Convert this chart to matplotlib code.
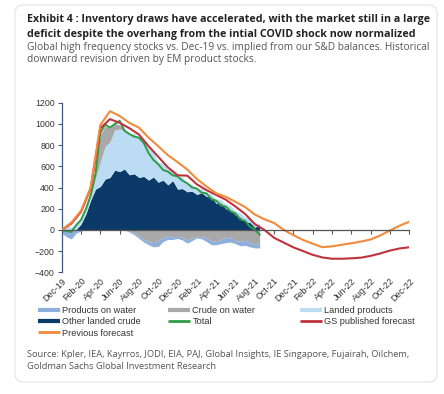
import numpy as np
import matplotlib
matplotlib.use('Agg')
import matplotlib.pyplot as plt
from matplotlib.patches import FancyBboxPatch
from matplotlib.lines import Line2D

plt.rcParams['font.family'] = ['Liberation Sans', 'DejaVu Sans']
head_font = ['Open Sans', 'DejaVu Sans']

# history: two readings per month, months counted from Dec-19
hist_months = np.arange(42) * 0.5
other_landed_crude = [0, 0, 0, 5, 55, 150, 280, 385, 410, 480,
                      495, 565, 550, 575, 520, 530, 495, 505, 470, 500,
                      450, 470, 425, 465, 385, 390, 360, 365, 335, 350,
                      315, 310, 250, 255, 200, 190, 140, 120, 80, 70,
                      25, 45]
landed_products = [20, 45, 25, 50, 50, 60, 30, 105, 230, 310,
                   335, 380, 400, 365, 380, 385, 365, 355, 300, 230,
                   190, 160, 145, 110, 120, 110, 80, 65, 55, 40,
                   35, 30, 40, 30, 40, 35, 40, 40, 40, 40,
                   40, 15]
crude_on_water = [0, -5, -10, 0, 0, 10, 20, 80, 260, 190,
                  130, 60, 40, 15, -10, -30, -60, -90, -110, -120,
                  -100, -70, -60, -65, -60, -70, -95, -80, -60, -65,
                  -80, -100, -110, -90, -70, -75, -100, -110, -95, -120,
                  -140, -130]
products_on_water = [-30, -60, -75, -30, -10, 0, 0, 0, 0, 0,
                     0, 0, 0, 0, -10, -15, -20, -25, -30, -40,
                     -55, -40, -30, -25, -20, -25, -30, -20, -15, -20,
                     -30, -40, -30, -40, -50, -40, -30, -40, -50, -40,
                     -30, -40]
total = [0, -12, -18, 45, 95, 195, 325, 530, 915, 995,
         965, 1000, 1030, 935, 905, 880, 870, 820, 725, 660,
         620, 565, 550, 515, 505, 465, 440, 400, 390, 350,
         345, 290, 275, 230, 220, 175, 155, 100, 85, 30,
         5, -45]

# monthly balances Dec-19 .. Dec-22
fc_months = np.arange(37)
gs_forecast = [0, 60, 170, 390, 960, 1045, 1010, 960, 900, 790,
               690, 590, 515, 512, 430, 375, 330, 285, 220, 150,
               55, 0, -75, -120, -165, -200, -235, -260, -272, -272,
               -268, -262, -245, -222, -195, -175, -164]
previous_forecast = [0, 70, 180, 400, 990, 1120, 1075, 1010, 965, 870,
                     790, 705, 640, 570, 480, 410, 345, 312, 265, 215,
                     145, 100, 65, 0, -50, -95, -130, -163, -155, -140,
                     -126, -110, -90, -52, -5, 40, 77]

tick_labels = ['Dec-19', 'Feb-20', 'Apr-20', 'Jun-20', 'Aug-20', 'Oct-20',
               'Dec-20', 'Feb-21', 'Apr-21', 'Jun-21', 'Aug-21', 'Oct-21',
               'Dec-21', 'Feb-22', 'Apr-22', 'Jun-22', 'Aug-22', 'Oct-22',
               'Dec-22']

c_pow = '#8eaedb'
c_cow = '#a9a9a9'
c_lp = '#bcdcf3'
c_olc = '#0c3a68'
c_total = '#2f9d48'
c_gs = '#c0323c'
c_prev = '#f28a3c'

W, H = 444, 394
fig = plt.figure(figsize=(W / 100, H / 100), dpi=100)

card = FancyBboxPatch((15 / W, 1 - 382 / H), 422 / W, 377 / H,
                      boxstyle='round,pad=0,rounding_size=0.02',
                      transform=fig.transFigure, facecolor='white',
                      edgecolor='#e4e4e4', lw=0.8, zorder=-5)
fig.patches.append(card)

ax = fig.add_axes([61.7 / W, 1 - 272.3 / H, (409.3 - 61.7) / W, (272.3 - 102.7) / H])
ax.set_facecolor('none')

# stacked areas, positives up from zero and negatives down
olc = np.array(other_landed_crude, float)
lp = np.array(landed_products, float)
cow = np.array(crude_on_water, float)
pw = np.array(products_on_water, float)

p1 = olc
p2 = p1 + lp
p3 = p2 + np.clip(cow, 0, None)
p4 = p3 + np.clip(pw, 0, None)
n1 = np.clip(cow, None, 0)
n2 = n1 + np.clip(pw, None, 0)

ax.fill_between(hist_months, 0, p1, color=c_olc, lw=0, zorder=2)
ax.fill_between(hist_months, p1, p2, color=c_lp, lw=0, zorder=2)
ax.fill_between(hist_months, p2, p3, color=c_cow, lw=0, zorder=2)
ax.fill_between(hist_months, p3, p4, color=c_pow, lw=0, zorder=2)
ax.fill_between(hist_months, 0, n1, color=c_cow, lw=0, zorder=2)
ax.fill_between(hist_months, n1, n2, color=c_pow, lw=0, zorder=2)

ax.plot(hist_months, total, color=c_total, lw=1.4, zorder=4)
ax.plot(fc_months, gs_forecast, color=c_gs, lw=1.5, zorder=5)
ax.plot(fc_months, previous_forecast, color=c_prev, lw=1.5, zorder=6)

ax.set_xlim(0, 36)
ax.set_ylim(-400, 1200)
ax.set_yticks(range(-400, 1201, 200))
ax.tick_params(axis='y', labelsize=6.3, labelcolor='#333333', length=3,
               width=0.8, color='#3d5a80', pad=2)

for s in ['top', 'right']:
    ax.spines[s].set_visible(False)
ax.spines['left'].set_color('#3d5a80')
ax.spines['left'].set_linewidth(0.9)
ax.spines['bottom'].set_position(('data', 0))
ax.spines['bottom'].set_color('#555555')
ax.spines['bottom'].set_linewidth(0.9)
ax.spines['bottom'].set_zorder(7)

xt = np.arange(0, 37, 2)
ax.set_xticks(xt)
ax.tick_params(axis='x', labelbottom=False, length=3, width=0.8, color='#555555')

sec = ax.secondary_xaxis('bottom')
sec.set_xticks(xt, tick_labels, rotation=45, ha='right', rotation_mode='anchor')
sec.tick_params(length=0, labelsize=6.4, labelcolor='#333333', pad=3)
sec.spines['bottom'].set_visible(False)


def hline(color, lw):
    return Line2D([0], [0], color=color, lw=lw, solid_capstyle='butt')


columns = [
    (38, [(hline(c_pow, 3), 'Products on water'),
          (hline(c_olc, 3), 'Other landed crude'),
          (hline(c_prev, 2), 'Previous forecast')]),
    (168, [(hline(c_cow, 3), 'Crude on water'),
           (hline(c_total, 2), 'Total')]),
    (300, [(hline(c_lp, 3), 'Landed products'),
           (hline(c_gs, 2), 'GS published forecast')]),
]
for xpx, items in columns:
    fig.legend([h for h, _ in items], [t for _, t in items],
               loc='upper left', bbox_to_anchor=(xpx / W, 1 - 306 / H),
               frameon=False, fontsize=6.6, borderpad=0, borderaxespad=0,
               handlelength=2.4, handletextpad=0.25, labelspacing=0.25,
               labelcolor='#333333')

fig.text(27 / W, 1 - 22.3 / H,
         'Exhibit 4 : Inventory draws have accelerated, with the market still in a large',
         fontsize=7.7, fontweight='bold', color='#222222', va='baseline',
         family=head_font)
fig.text(27 / W, 1 - 37.3 / H,
         'deficit despite the overhang from the intial COVID shock now normalized',
         fontsize=7.7, fontweight='bold', color='#222222', va='baseline',
         family=head_font)
fig.text(27 / W, 1 - 50 / H,
         'Global high frequency stocks vs. Dec-19 vs. implied from our S&D balances. Historical',
         fontsize=7.3, color='#555555', va='baseline', family=head_font)
fig.text(27 / W, 1 - 61.7 / H,
         'downward revision driven by EM product stocks.',
         fontsize=7.3, color='#555555', va='baseline', family=head_font)
fig.text(27 / W, 1 - 356.7 / H,
         'Source: Kpler, IEA, Kayrros, JODI, EIA, PAJ, Global Insights, IE Singapore, Fujairah, Oilchem,',
         fontsize=6.65, color='#555555', va='baseline', family=head_font)
fig.text(27 / W, 1 - 369 / H,
         'Goldman Sachs Global Investment Research',
         fontsize=6.65, color='#555555', va='baseline', family=head_font)

fig.savefig('out.png', dpi=100, facecolor='white')
